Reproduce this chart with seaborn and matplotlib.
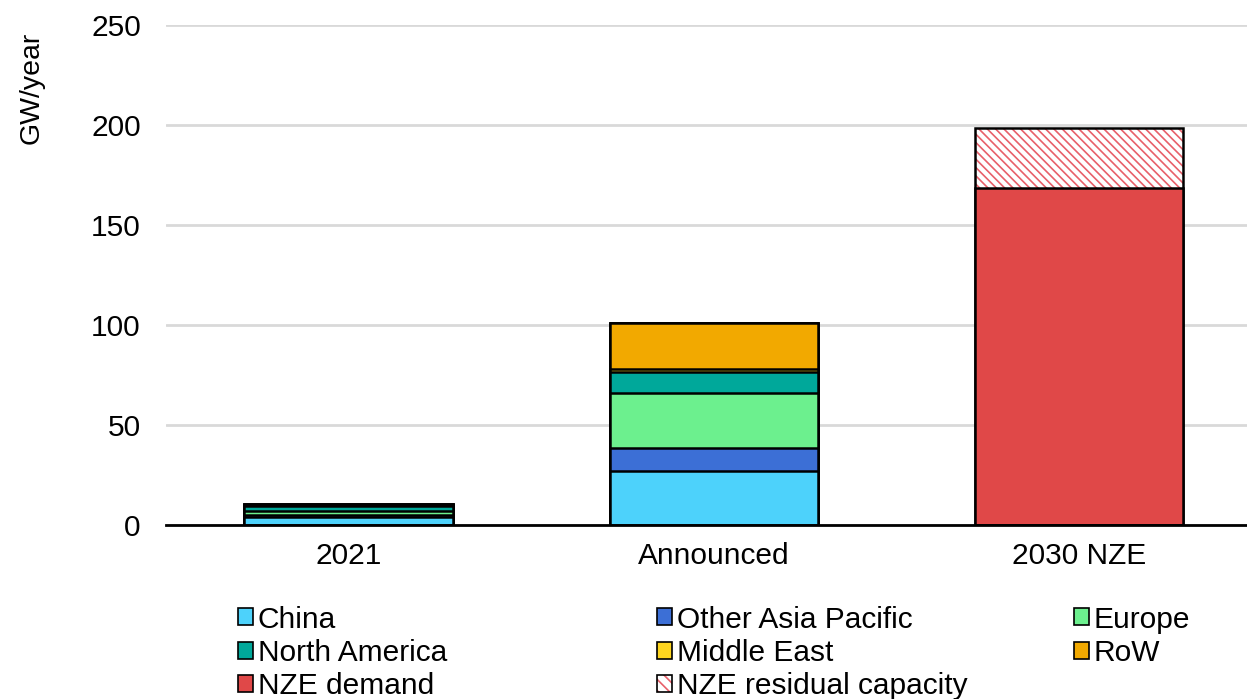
import matplotlib
matplotlib.use('Agg')
import matplotlib.pyplot as plt
import matplotlib.patches as mpatches
from matplotlib.legend_handler import HandlerTuple
import pandas as pd
import seaborn as sns

categories = ['2021', 'Announced', '2030 NZE']
series = ['China', 'Other Asia Pacific', 'Europe', 'North America',
          'Middle East', 'RoW', 'NZE demand', 'NZE residual capacity']
china = [3.8, 27.2, 0]
other_asia = [1.2, 11.5, 0]
europe = [2.2, 27.2, 0]
north_america = [2.5, 10.7, 0]
middle_east = [0.2, 1.2, 0]
row = [0.6, 23.3, 0]
nze_demand = [0, 0, 168.5]
nze_residual = [0, 0, 30.0]
colors = ['#4dd2fb', '#3c6fd6', '#6cf08e', '#00a89a',
          '#ffd61f', '#f2a900', '#e04848', 'white']

df = pd.DataFrame({'category': categories, 'China': china,
                   'Other Asia Pacific': other_asia, 'Europe': europe,
                   'North America': north_america, 'Middle East': middle_east,
                   'RoW': row, 'NZE demand': nze_demand,
                   'NZE residual capacity': nze_residual})
cum = df[series].cumsum(axis=1)

sns.set_theme(style='white')
plt.rcParams['font.family'] = ['Liberation Sans', 'DejaVu Sans']
plt.rcParams['text.color'] = 'black'
plt.rcParams['xtick.color'] = 'black'
plt.rcParams['ytick.color'] = 'black'
plt.rcParams['axes.labelcolor'] = 'black'
plt.rcParams['hatch.linewidth'] = 1.2

fig, ax = plt.subplots(figsize=(12.47, 6.99), dpi=100)
fig.subplots_adjust(left=0.133, right=1.0, top=0.964, bottom=0.249)

bw = 0.57
hatch_red = '#e8606a'
# draw from the top of the stack downwards so each segment covers the rest
for s, c in reversed(list(zip(series, colors))):
    if s == 'NZE residual capacity':
        sns.barplot(x=df['category'], y=cum[s], order=categories, color='white',
                    width=bw, edgecolor=hatch_red, linewidth=0, hatch='\\\\\\\\',
                    saturation=1, ax=ax)
        sns.barplot(x=df['category'], y=cum[s], order=categories, fill=False,
                    width=bw, edgecolor='black', linewidth=1.8, ax=ax)
    else:
        sns.barplot(x=df['category'], y=cum[s], order=categories, color=c,
                    width=bw, edgecolor='black', linewidth=1.8, saturation=1, ax=ax)

ax.set_xlim(-0.5, 2.46)
ax.set_ylim(0, 250)
ax.set_yticks([0, 50, 100, 150, 200, 250])
ax.yaxis.grid(True, color='#d9d9d9', linewidth=2)
ax.set_axisbelow(True)
for sp in ['top', 'right', 'left']:
    ax.spines[sp].set_visible(False)
ax.spines['bottom'].set_color('black')
ax.spines['bottom'].set_linewidth(2)
ax.tick_params(axis='y', length=0, pad=18, labelsize=21.5)
ax.tick_params(axis='x', length=0, pad=12, labelsize=21.5)
ax.set_xlabel('')
ax.set_ylabel('GW/year', fontsize=20.5)
ax.yaxis.set_label_coords(-0.112, 0.874)

handles = []
for s, c in zip(series, colors):
    if s == 'NZE residual capacity':
        h = mpatches.Patch(facecolor='white', edgecolor=hatch_red, hatch='\\\\\\',
                           linewidth=0)
        handles.append((h, mpatches.Patch(facecolor='none', edgecolor='black', linewidth=1.2)))
    else:
        handles.append(mpatches.Patch(facecolor=c, edgecolor='black', linewidth=1.2))

cols = [[0, 3, 6], [1, 4, 7], [2, 5]]
xs = [0.179, 0.515, 0.849]
for col, x in zip(cols, xs):
    fig.legend([handles[i] for i in col], [series[i] for i in col],
               loc='upper left', bbox_to_anchor=(x, 0.155), frameon=False,
               fontsize=21.5, handlelength=0.5, handleheight=0.5,
               handletextpad=0.15, labelspacing=0.17, borderpad=0,
               handler_map={tuple: HandlerTuple(ndivide=1, pad=0)})

fig.savefig('out.png', dpi=100)
